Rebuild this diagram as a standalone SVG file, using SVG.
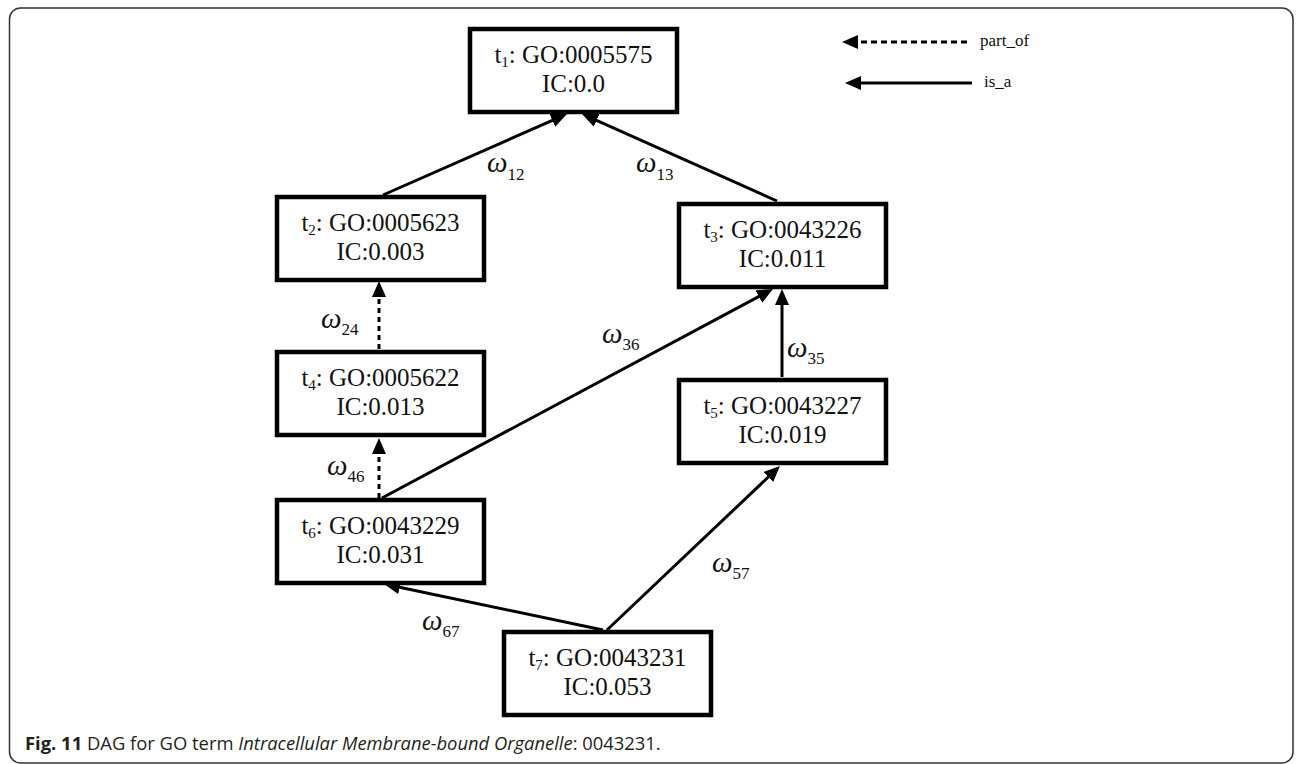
<svg xmlns="http://www.w3.org/2000/svg" width="1296" height="764" viewBox="0 0 1296 764">
<defs>
<marker id="ah" markerUnits="userSpaceOnUse" markerWidth="16" markerHeight="14" refX="10" refY="7" orient="auto"><path d="M0,0 L16,7 L0,14 z" fill="#000"/></marker>
<style>
.box{fill:#fff;stroke:#000;stroke-width:4.5}
.nt{font-family:"Liberation Serif","Times New Roman",serif;font-size:25px;fill:#111;text-anchor:middle}
.sub{font-size:15px}
.e{stroke:#000;stroke-width:3;fill:none;marker-end:url(#ah)}
.d{stroke-dasharray:5 4}
.w{font-family:"Liberation Serif","Times New Roman",serif;font-size:29px;font-style:italic;fill:#111}
.ws{font-size:17px;font-style:normal}
.lg{font-family:"Liberation Serif","Times New Roman",serif;font-size:17px;fill:#111}
.cap{font-family:"Open Sans","Noto Sans",sans-serif;font-size:18.4px;fill:#231f20}
</style>
</defs>
<rect x="9.5" y="8" width="1283.5" height="755" rx="11" fill="#fff" stroke="#333" stroke-width="1.5"/>
<g id="connectors">
<path class="e" d="M383,195 L561.5,116.4"/>
<path class="e" d="M777,201 L587.5,116.4"/>
<path class="e d" d="M379,349 L379,287"/>
<path class="e d" d="M379,498 L379,444"/>
<path class="e" d="M382,498 L767.7,291.8"/>
<path class="e" d="M782,377 L782,295"/>
<path class="e" d="M603,630 L389.9,585.2"/>
<path class="e" d="M607,630 L775.6,470.1"/>
<text class="w" x="487" y="172">ω<tspan class="ws" dy="8">12</tspan></text>
<text class="w" x="636" y="172">ω<tspan class="ws" dy="8">13</tspan></text>
<text class="w" x="321" y="328">ω<tspan class="ws" dy="7">24</tspan></text>
<text class="w" x="327" y="475">ω<tspan class="ws" dy="7">46</tspan></text>
<text class="w" x="602" y="343">ω<tspan class="ws" dy="7">36</tspan></text>
<text class="w" x="787" y="357">ω<tspan class="ws" dy="7">35</tspan></text>
<text class="w" x="712" y="572">ω<tspan class="ws" dy="7">57</tspan></text>
<text class="w" x="422" y="630">ω<tspan class="ws" dy="7">67</tspan></text>
</g>
<g id="legend">
<path class="e d" d="M967,42 L848,42" style="stroke-dasharray:6 4"/>
<text class="lg" x="980" y="46">part_of</text>
<path class="e" d="M972,83 L851,83"/>
<text class="lg" x="984" y="87">is_a</text>
</g>
<g id="t1"><rect class="box" x="470" y="29" width="207" height="83"/>
<text class="nt" x="573.5" y="63">t<tspan class="sub" dy="4">1</tspan><tspan dy="-4">: GO:0005575</tspan></text>
<text class="nt" x="573.5" y="92">IC:0.0</text></g>
<g id="t2"><rect class="box" x="277" y="197" width="207" height="83"/>
<text class="nt" x="380.5" y="231">t<tspan class="sub" dy="4">2</tspan><tspan dy="-4">: GO:0005623</tspan></text>
<text class="nt" x="380.5" y="260">IC:0.003</text></g>
<g id="t3"><rect class="box" x="679" y="204" width="207" height="83"/>
<text class="nt" x="782.5" y="238">t<tspan class="sub" dy="4">3</tspan><tspan dy="-4">: GO:0043226</tspan></text>
<text class="nt" x="782.5" y="267">IC:0.011</text></g>
<g id="t4"><rect class="box" x="277" y="352" width="207" height="83"/>
<text class="nt" x="380.5" y="386">t<tspan class="sub" dy="4">4</tspan><tspan dy="-4">: GO:0005622</tspan></text>
<text class="nt" x="380.5" y="415">IC:0.013</text></g>
<g id="t5"><rect class="box" x="679" y="380" width="207" height="83"/>
<text class="nt" x="782.5" y="414">t<tspan class="sub" dy="4">5</tspan><tspan dy="-4">: GO:0043227</tspan></text>
<text class="nt" x="782.5" y="443">IC:0.019</text></g>
<g id="t6"><rect class="box" x="277" y="500" width="207" height="83"/>
<text class="nt" x="380.5" y="534">t<tspan class="sub" dy="4">6</tspan><tspan dy="-4">: GO:0043229</tspan></text>
<text class="nt" x="380.5" y="563">IC:0.031</text></g>
<g id="t7"><rect class="box" x="504" y="632" width="207" height="83"/>
<text class="nt" x="607.5" y="666">t<tspan class="sub" dy="4">7</tspan><tspan dy="-4">: GO:0043231</tspan></text>
<text class="nt" x="607.5" y="695">IC:0.053</text></g>
<text class="cap" x="25" y="750"><tspan font-weight="bold">Fig. 11</tspan> DAG for GO term <tspan font-style="italic">Intracellular Membrane-bound Organelle</tspan>: 0043231.</text>
</svg>
